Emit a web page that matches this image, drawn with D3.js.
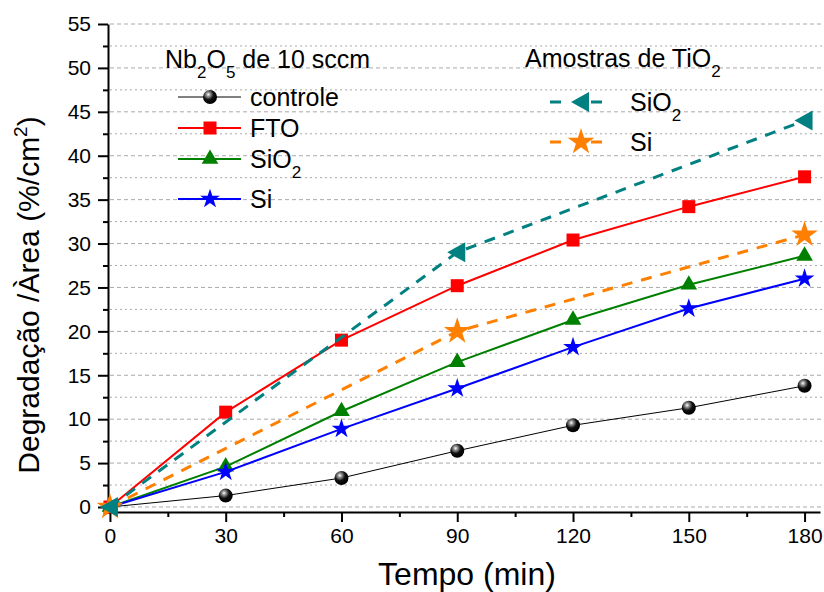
<!DOCTYPE html>
<html>
<head>
<meta charset="utf-8">
<script src="https://cdn.jsdelivr.net/npm/d3@7"></script>
<style>
body{margin:0;background:#fff;font-family:"Liberation Sans",Arial,sans-serif;}
</style>
</head>
<body>
<svg id="chart" width="824" height="592"></svg>
<script>
// data
let tempo = [0, 30, 60, 90, 120, 150, 180];
let controle = [0, 1.3, 3.3, 6.4, 9.3, 11.3, 13.8];
let fto = [0, 10.8, 19.0, 25.2, 30.4, 34.2, 37.6];
let sio2 = [0, 4.6, 10.9, 16.5, 21.3, 25.3, 28.6];
let si = [0, 4.0, 8.9, 13.5, 18.2, 22.6, 26.0];
let tempoTi = [0, 90, 180];
let tiSio2 = [0, 29.0, 44.0];
let tiSi = [0, 20.0, 31.0];
let xTicks = [0, 30, 60, 90, 120, 150, 180];
let yTicks = [0, 5, 10, 15, 20, 25, 30, 35, 40, 45, 50, 55];

let svg = d3.select('#chart');
let x = d3.scaleLinear().domain([-0.5, 184]).range([108, 820]);
let y = d3.scaleLinear().domain([-0.57, 55]).range([512, 24]);

let defs = svg.append('defs');
let grad = defs.append('radialGradient').attr('id', 'ball').attr('cx', '38%').attr('cy', '32%').attr('r', '62%');
grad.append('stop').attr('offset', '0%').attr('stop-color', '#fff');
grad.append('stop').attr('offset', '22%').attr('stop-color', '#999');
grad.append('stop').attr('offset', '60%').attr('stop-color', '#111');
grad.append('stop').attr('offset', '100%').attr('stop-color', '#000');

// grid
let minor = d3.range(2.5, 55, 5);
svg.append('g').selectAll('line').data(minor).enter().append('line')
  .attr('x1', 110).attr('x2', 822).attr('y1', d => y(d)).attr('y2', d => y(d))
  .attr('stroke', '#aaa').attr('stroke-width', 1).attr('stroke-dasharray', '2,3');
svg.append('g').selectAll('line').data(yTicks).enter().append('line')
  .attr('x1', 110).attr('x2', 822).attr('y1', d => y(d)).attr('y2', d => y(d))
  .attr('stroke', '#aaa').attr('stroke-width', 1).attr('stroke-dasharray', '4,3');

// axes
svg.append('g').attr('transform', 'translate(0,512)')
  .call(d3.axisBottom(x).tickValues(xTicks).tickSize(10).tickSizeOuter(0).tickPadding(6));
svg.append('g').attr('transform', 'translate(0,512)')
  .call(d3.axisBottom(x).tickValues(d3.range(15, 181, 30)).tickSize(5).tickFormat('').tickSizeOuter(0))
  .call(g => g.select('.domain').remove());
svg.append('g').attr('transform', 'translate(108,0)')
  .call(d3.axisLeft(y).tickValues(yTicks).tickSize(10).tickSizeOuter(0).tickPadding(7));
svg.append('g').attr('transform', 'translate(108,0)')
  .call(d3.axisLeft(y).tickValues(minor).tickSize(5).tickFormat(''))
  .call(g => g.select('.domain').remove());
svg.selectAll('.tick text').attr('font-size', 21).attr('font-family', '"Liberation Sans",Arial,sans-serif').attr('fill', '#000');
svg.selectAll('.domain, .tick line').attr('stroke', '#000').attr('stroke-width', 2);

svg.append('text').attr('x', 467).attr('y', 585).attr('text-anchor', 'middle')
  .attr('font-size', 32).text('Tempo (min)');
let yt = svg.append('text').attr('transform', 'translate(39,295) rotate(-90)').attr('text-anchor', 'middle')
  .attr('font-size', 30);
yt.append('tspan').text('Degradação /Àrea (%/cm');
yt.append('tspan').attr('font-size', 19).attr('dy', -12).text('2');
yt.append('tspan').attr('dy', 12).text(')');

// markers
function marker(g, type, color, size) {
  if (type == 'ball') {
    g.append('circle').attr('r', 7).attr('fill', 'url(#ball)');
  } else if (type == 'square') {
    g.append('rect').attr('x', -6.5).attr('y', -6.5).attr('width', 13).attr('height', 13).attr('fill', color);
  } else if (type == 'tri') {
    g.append('path').attr('d', d3.symbol(d3.symbolTriangle, 120)()).attr('fill', color);
  } else if (type == 'star') {
    g.append('path').attr('d', d3.symbol(d3.symbolStar, size)()).attr('fill', color);
  } else if (type == 'left') {
    g.append('path').attr('d', 'M-10,0L8,-10L8,10Z').attr('fill', color);
  }
}

let series = [
  {xs: tempo, ys: controle, color: '#000', width: 1, dash: null, type: 'ball'},
  {xs: tempo, ys: fto, color: '#ff0000', width: 2, dash: null, type: 'square'},
  {xs: tempo, ys: sio2, color: '#008000', width: 2, dash: null, type: 'tri'},
  {xs: tempo, ys: si, color: '#0000ff', width: 2, dash: null, type: 'star', size: 120},
  {xs: tempoTi, ys: tiSi, color: '#ff8000', width: 3, dash: '11,9', type: 'star', size: 220},
  {xs: tempoTi, ys: tiSio2, color: '#008080', width: 3, dash: '11,9', type: 'left'}
];

let line = d3.line().x(d => x(d[0])).y(d => y(d[1]));
series.forEach(function(s) {
  let pts = s.xs.map((v, i) => [v, s.ys[i]]);
  svg.append('path').datum(pts).attr('d', line).attr('fill', 'none')
    .attr('stroke', s.color).attr('stroke-width', s.width).attr('stroke-dasharray', s.dash);
  pts.forEach(function(p) {
    let g = svg.append('g').attr('transform', `translate(${x(p[0])},${y(p[1])})`);
    marker(g, s.type, s.color, s.size);
  });
});

// legend 1
let l1 = svg.append('text').attr('x', 165).attr('y', 68).attr('font-size', 25);
l1.append('tspan').text('Nb');
l1.append('tspan').attr('font-size', 17).attr('dy', 10).text('2');
l1.append('tspan').attr('dy', -10).text('O');
l1.append('tspan').attr('font-size', 17).attr('dy', 10).text('5');
l1.append('tspan').attr('dy', -10).text(' de 10 sccm');

let leg1 = [
  {label: 'controle', sub: '', y: 97, s: series[0]},
  {label: 'FTO', sub: '', y: 128, s: series[1]},
  {label: 'SiO', sub: '2', y: 159, s: series[2]},
  {label: 'Si', sub: '', y: 199, s: series[3]}
];
leg1.forEach(function(d) {
  svg.append('line').attr('x1', 178).attr('x2', 241).attr('y1', d.y).attr('y2', d.y)
    .attr('stroke', d.s.color).attr('stroke-width', d.s.width);
  marker(svg.append('g').attr('transform', `translate(210,${d.y})`), d.s.type, d.s.color, d.s.size);
  let t = svg.append('text').attr('x', 250).attr('y', d.y + 9).attr('font-size', 25).text(d.label);
  if (d.sub) t.append('tspan').attr('font-size', 17).attr('dy', 10).text(d.sub);
});

// legend 2
let l2 = svg.append('text').attr('x', 525).attr('y', 67).attr('font-size', 25);
l2.append('tspan').text('Amostras de TiO');
l2.append('tspan').attr('font-size', 17).attr('dy', 10).text('2');

let leg2 = [
  {label: 'SiO', sub: '2', y: 102, s: series[5]},
  {label: 'Si', sub: '', y: 142, s: series[4]}
];
leg2.forEach(function(d) {
  svg.append('line').attr('x1', 550).attr('x2', 602).attr('y1', d.y).attr('y2', d.y)
    .attr('stroke', d.s.color).attr('stroke-width', d.s.width).attr('stroke-dasharray', '11,30');
  marker(svg.append('g').attr('transform', `translate(581,${d.y})`), d.s.type, d.s.color, d.s.size);
  let t = svg.append('text').attr('x', 630).attr('y', d.y + 9).attr('font-size', 25).text(d.label);
  if (d.sub) t.append('tspan').attr('font-size', 17).attr('dy', 10).text(d.sub);
});
</script>
</body>
</html>
